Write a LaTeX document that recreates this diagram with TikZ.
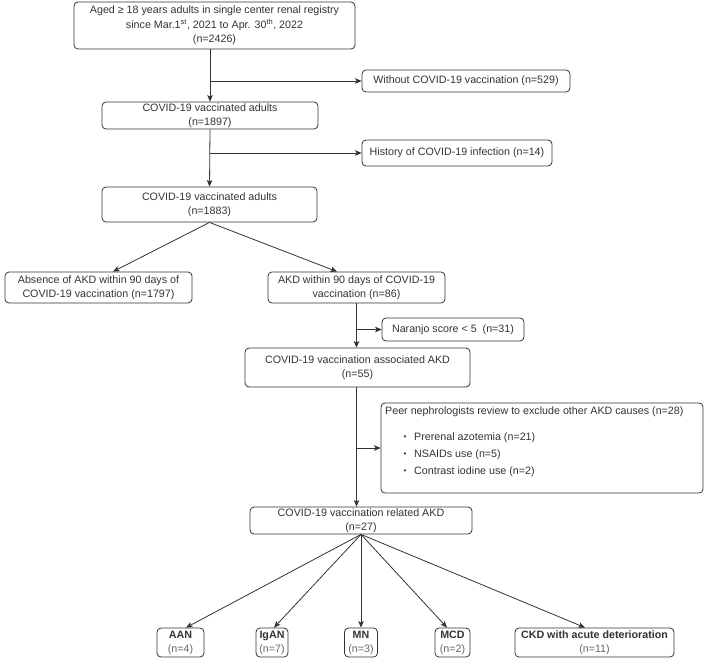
\documentclass[tikz,border=0pt]{standalone}
\usepackage{fontspec}
\setmainfont{Liberation Sans}
\usetikzlibrary{arrows.meta}
\definecolor{ink}{HTML}{333333}
\definecolor{soft}{HTML}{666666}
\begin{document}
\begin{tikzpicture}[x=1pt,y=-1pt,
  box/.style={draw=ink, line width=0.8pt, rounded corners=4pt, align=center, inner sep=0pt, text=ink, font=\fontsize{10.7}{13.5}\selectfont},
  arr/.style={draw=ink, line width=0.8pt, -{Stealth[length=6.5pt,width=5.5pt,inset=1.5pt]}},
  txt/.style={inner sep=0pt, text=ink, font=\fontsize{10.7}{13.5}\selectfont},
  dot/.style={inner sep=0pt, text=ink, font=\fontsize{8}{10}\selectfont},
  leaf/.style={box, font=\fontsize{10.7}{14}\selectfont, minimum height=29pt}]
\useasboundingbox (0,0) rectangle (708,658);

% main column
\node[box, minimum width=281pt, minimum height=47pt, font=\fontsize{10.7}{14.5}\selectfont] (b1) at (214.5,25.5)
  {Aged ≥ 18 years adults in single center renal registry\\since Mar.1\textsuperscript{st}, 2021 to Apr. 30\textsuperscript{th}, 2022\\(n=2426)};
\node[box, minimum width=208pt, minimum height=22pt] (nv) at (466,81) {Without COVID-19 vaccination (n=529)};
\node[box, minimum width=216pt, minimum height=27pt] (b2) at (210,115.5) {COVID-19 vaccinated adults\\(n=1897)};
\node[box, minimum width=190pt, minimum height=26pt] (hist) at (457,153) {History of COVID-19 infection (n=14)};
\node[box, minimum width=215pt, minimum height=35pt] (b3) at (209.5,204.5) {COVID-19 vaccinated adults\\(n=1883)};
\node[box, minimum width=187pt, minimum height=31pt] (abs) at (98.5,287.5) {Absence of AKD within 90 days of\\COVID-19 vaccination (n=1797)};
\node[box, minimum width=177pt, minimum height=31pt] (akd) at (356.5,287.5) {AKD within 90 days of COVID-19\\vaccination (n=86)};
\node[box, minimum width=142pt, minimum height=23pt] (nar) at (453,329.5) {Naranjo score < 5\ \ (n=31)};
\node[box, minimum width=225pt, minimum height=39pt] (assoc) at (357.5,367.5) {COVID-19 vaccination associated AKD\\(n=55)};
\node[box, minimum width=322pt, minimum height=90pt] (peer) at (542,448) {};
\node[txt, anchor=west] (ph) at (385,412) {Peer nephrologists review to exclude other AKD causes (n=28)};
\node[dot] (d1) at (405,438) {\textbullet};
\node[dot] (d2) at (405,455) {\textbullet};
\node[dot] (d3) at (405,472) {\textbullet};
\node[txt, anchor=west] (p1) at (414,438) {Prerenal azotemia (n=21)};
\node[txt, anchor=west] (p2) at (414,455) {NSAIDs use (n=5)};
\node[txt, anchor=west] (p3) at (414,472) {Contrast iodine use (n=2)};
\node[box, minimum width=222pt, minimum height=27pt] (rel) at (361,520.5) {COVID-19 vaccination related AKD\\(n=27)};

% leaves
\node[leaf, minimum width=47pt] (aan) at (180.5,642.5) {\textbf{AAN}\\\textcolor{soft}{(n=4)}};
\node[leaf, minimum width=32pt] (igan) at (272,642.5) {\textbf{IgAN}\\\textcolor{soft}{(n=7)}};
\node[leaf, minimum width=33pt] (mn) at (361,642.5) {\textbf{MN}\\\textcolor{soft}{(n=3)}};
\node[leaf, minimum width=35pt] (mcd) at (452.5,642.5) {\textbf{MCD}\\\textcolor{soft}{(n=2)}};
\node[leaf, minimum width=159pt] (ckd) at (594.5,642.5) {\textbf{CKD with acute deterioration}\\\textcolor{soft}{(n=11)}};

% connectors
\draw[arr] (b2.north |- b1.south) -- (b2.north);
\draw[arr] (b2.north |- nv.west) -- (nv.west);
\draw[arr] (b2.south) -- (b3.north);
\draw[arr] (b2.south |- hist.west) -- (hist.west);
\draw[arr] (b3.south) -- ([xshift=14.5pt]abs.north);
\draw[arr] (b3.south) -- ([xshift=-19.5pt]akd.north);
\draw[arr] (akd.south) -- (akd.south |- assoc.north);
\draw[arr] (akd.south |- nar.west) -- (nar.west);
\draw[arr] (akd.south |- assoc.south) -- (akd.south |- rel.north);
\draw[arr] (akd.south |- peer.west) -- (peer.west);
\draw[arr] (rel.south) -- ([xshift=5.5pt]aan.north);
\draw[arr] (rel.south) -- ([xshift=2pt]igan.north);
\draw[arr] (rel.south) -- (mn.north);
\draw[arr] (rel.south) -- ([xshift=-5.5pt]mcd.north);
\draw[arr] (rel.south) -- ([xshift=-9.5pt]ckd.north);
\end{tikzpicture}
\end{document}
